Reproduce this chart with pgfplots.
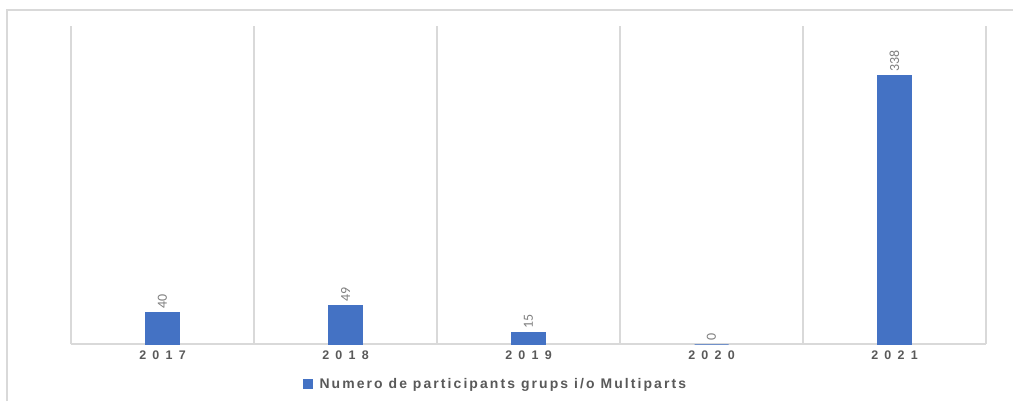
\documentclass[border=0pt]{standalone}
\usepackage{fontspec}
\setmainfont{Carlito}
\newfontfamily\tickfont{Liberation Sans}[LetterSpace=50]
\newfontfamily\legfont{Liberation Sans}[LetterSpace=15]
\usepackage{pgfplots}
\pgfplotsset{compat=1.18}
\definecolor{barblue}{HTML}{4472C4}
\definecolor{gridgray}{HTML}{D9D9D9}
\definecolor{labelgray}{HTML}{7F7F7F}
\definecolor{textgray}{HTML}{595959}
\begin{document}
\begin{tikzpicture}[x=1bp,y=1bp]
\path[use as bounding box] (0,0) rectangle (1013,401);
\draw[gridgray, line width=1.5bp] (7,0) -- (7,391) -- (1013,391);
\begin{axis}[
  at={(71bp,57bp)}, anchor=south west,
  scale only axis, width=915bp, height=318bp,
  xmin=-0.5, xmax=4.5, ymin=0, ymax=400,
  /pgf/number format/assume math mode=true,
  axis x line*=bottom, axis y line=none,
  x axis line style={gridgray, line width=1.2bp, -},
  xtick={0,1,2,3,4},
  xticklabels={2017,2018,2019,2020,2021},
  xticklabel style={font=\tickfont\fontsize{12.5}{12.5}\selectfont\bfseries, text=textgray, yshift=-3bp},
  major tick length=0, minor tick length=0,
  minor xtick={-0.5,0.5,1.5,2.5,3.5,4.5},
  xminorgrids, minor grid style={gridgray, line width=1.2bp},
  ybar, bar width=34bp,
  nodes near coords,
  every node near coord/.append style={rotate=90, anchor=west, font=\fontsize{14}{14}\selectfont, text=labelgray},
  legend style={draw=none, at={(0.464,-0.126)}, anchor=center, font=\legfont\fontsize{14}{14}\selectfont\bfseries, text=textgray},
  legend image code/.code={\fill[barblue] (0bp,-4.5bp) rectangle (9bp,4.5bp);},
  legend cell align=left,
]
\addplot[fill=barblue, draw=barblue] coordinates {(0,40) (1,49) (2,15) (3,0) (4,338)};
\addlegendentry{\hspace{5bp}Numero de participants grups i/o Multiparts}
\end{axis}
\end{tikzpicture}
\end{document}
